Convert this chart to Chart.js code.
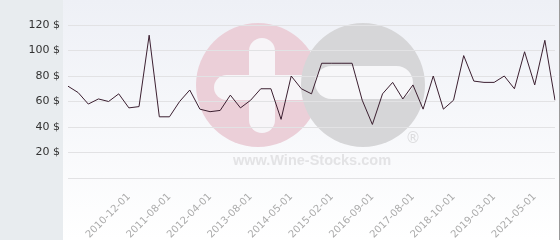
<!DOCTYPE html>
<html>
<head>
<meta charset="utf-8">
<script src="https://cdn.jsdelivr.net/npm/chart.js@4"></script>
<style>
  html, body { margin: 0; padding: 0; background: #fff; }
  #wrap { width: 560px; height: 240px; position: relative; }
</style>
</head>
<body>
<div id="wrap"><canvas id="priceChart"></canvas></div>
<script>
// Dates shown on the axis; the other points carry no readable label
const dates = [
    '', '', '', '', '', '', '2010-12-01', '', '', '',
    '2011-08-01', '', '', '', '2012-04-01', '', '', '', '2013-08-01', '',
    '', '', '2014-05-01', '', '', '', '2015-02-01', '', '', '',
    '2016-09-01', '', '', '', '2017-08-01', '', '', '', '2018-10-01', '',
    '', '', '2019-03-01', '', '', '', '2021-05-01', '', ''
];

const prices = [
    72, 67, 58, 62, 60, 66, 55, 56, 112, 48,
    48, 60, 69, 54, 52, 53, 65, 55, 61, 70,
    70, 46, 80, 70, 66, 90, 90, 90, 90, 61,
    42, 66, 75, 62, 73, 54, 80, 54, 61, 96,
    76, 75, 75, 80, 70, 99, 73, 108, 61
];

const yTicks = [20, 40, 60, 80, 100, 120];

// background panel + watermark, drawn under the grid
const backdrop = {
    id: 'backdrop',
    beforeDraw(chart) {
        const c = chart.ctx;
        const w = chart.width, h = chart.height;
        c.save();
        c.fillStyle = '#e8ecef';
        c.fillRect(0, 0, 63, h);
        const g = c.createLinearGradient(0, 0, 0, h);
        g.addColorStop(0, '#eef0f6');
        g.addColorStop(1, '#ffffff');
        c.fillStyle = g;
        c.fillRect(63, 0, w - 64, h);
        c.fillStyle = '#9a9a9a';
        c.fillRect(w - 1, 0, 1, h);

        // logo
        c.fillStyle = '#ebcfd8';
        c.beginPath();
        c.arc(258, 85, 62, 0, Math.PI * 2);
        c.fill();
        c.fillStyle = '#f7f5f8';
        roundRect(c, 249, 38, 26, 95, 13);
        roundRect(c, 214, 75, 100, 25, 12.5);
        c.fillStyle = '#d6d6d8';
        c.beginPath();
        c.arc(363, 85, 62, 0, Math.PI * 2);
        c.fill();
        c.fillStyle = '#f7f7f9';
        roundRect(c, 315, 66, 98, 33, 16.5);

        c.fillStyle = '#e3e3e5';
        c.font = 'bold 14.5px "Liberation Sans"';
        c.textAlign = 'center';
        c.textBaseline = 'middle';
        c.fillText('www.Wine-Stocks.com', 312, 161);
        c.font = '15px "DejaVu Sans"';
        c.fillStyle = '#dcdcde';
        c.fillText('®', 413, 139);
        c.restore();
    }
};

function roundRect(c, x, y, w, h, r) {
    c.beginPath();
    c.moveTo(x + r, y);
    c.arcTo(x + w, y, x + w, y + h, r);
    c.arcTo(x + w, y + h, x, y + h, r);
    c.arcTo(x, y + h, x, y, r);
    c.arcTo(x, y, x + w, y, r);
    c.closePath();
    c.fill();
}

new Chart(document.getElementById('priceChart'), {
    type: 'line',
    data: {
        labels: dates,
        datasets: [{
            data: prices,
            borderColor: '#3b1f30',
            borderWidth: 1,
            pointRadius: 0,
            tension: 0,
            fill: false
        }]
    },
    options: {
        responsive: true,
        maintainAspectRatio: false,
        animation: false,
        layout: { padding: { top: 25, right: 5, left: 0, bottom: 0 } },
        plugins: {
            legend: { display: false },
            tooltip: { enabled: false }
        },
        scales: {
            x: {
                offset: false,
                grid: { display: false, drawTicks: false },
                border: { display: false },
                ticks: {
                    autoSkip: false,
                    minRotation: 45,
                    maxRotation: 45,
                    padding: 13,
                    color: '#ababab',
                    font: { family: 'DejaVu Sans', size: 10 }
                },
                afterFit(scale) {
                    scale.height = 62;
                    scale.paddingLeft = 0;
                    scale.paddingRight = 0;
                }
            },
            y: {
                min: 0,
                max: 120,
                grid: { color: '#e2e2e4', drawTicks: false },
                border: { display: false },
                afterBuildTicks(scale) {
                    scale.ticks = [0].concat(yTicks).map(v => ({ value: v }));
                },
                ticks: {
                    padding: 8,
                    color: '#333333',
                    font: { family: 'DejaVu Sans', size: 11 },
                    callback: v => (v === 0 ? '' : v + ' $')
                },
                afterFit(scale) { scale.width = 68; }
            }
        }
    },
    plugins: [backdrop]
});
</script>
</body>
</html>
